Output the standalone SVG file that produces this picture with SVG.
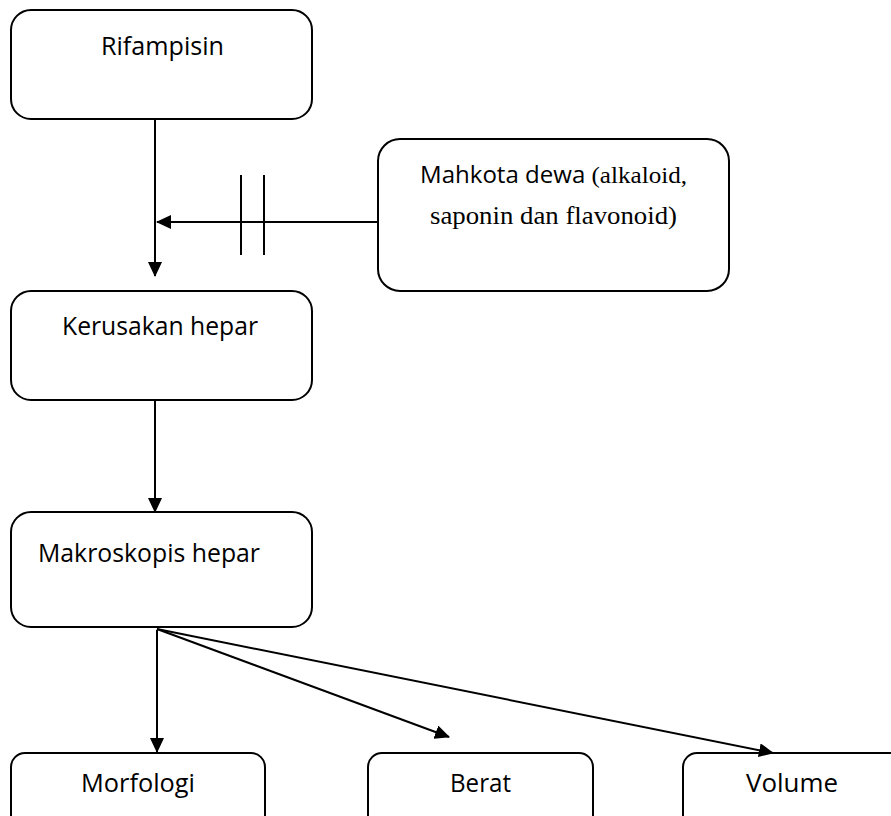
<svg xmlns="http://www.w3.org/2000/svg" width="891" height="816" viewBox="0 0 891 816">
<style>
.box{fill:#fff;stroke:#000;stroke-width:2}
.c{stroke:#000;stroke-width:2;fill:none}
.t{font-family:"Open Sans","Liberation Sans",sans-serif;font-size:26px;fill:#000}
.s{font-family:"Liberation Serif",serif;font-size:25px;fill:#000}
</style>
<defs>
<marker id="ah" markerWidth="15" markerHeight="14" refX="14" refY="7" orient="auto" markerUnits="userSpaceOnUse">
<path d="M0,0 L15,7 L0,14 Z" fill="#000"/>
</marker>
</defs>
<g id="rifampisin">
<rect class="box" x="11" y="10" width="301" height="109" rx="20"/>
<text class="t" x="101" y="55" textLength="123" lengthAdjust="spacingAndGlyphs">Rifampisin</text>
</g>
<g id="mahkota">
<rect class="box" x="378" y="139" width="351" height="152" rx="22"/>
<text x="420" y="183" textLength="267" lengthAdjust="spacingAndGlyphs"><tspan class="t" style="font-size:23px">Mahkota dewa </tspan><tspan class="s" style="font-size:24px">(alkaloid,</tspan></text>
<text class="s" x="430" y="224" textLength="247" lengthAdjust="spacingAndGlyphs">saponin dan flavonoid)</text>
</g>
<g id="kerusakan">
<rect class="box" x="11" y="291" width="301" height="109" rx="20"/>
<text class="t" x="62" y="335" textLength="196" lengthAdjust="spacingAndGlyphs">Kerusakan hepar</text>
</g>
<g id="makroskopis">
<rect class="box" x="11" y="512" width="301" height="115" rx="20"/>
<text class="t" x="38" y="562" textLength="222" lengthAdjust="spacingAndGlyphs">Makroskopis hepar</text>
</g>
<g id="morfologi">
<rect class="box" x="11" y="753" width="254" height="80" rx="14"/>
<text class="t" x="81" y="792" textLength="114" lengthAdjust="spacingAndGlyphs">Morfologi</text>
</g>
<g id="berat">
<rect class="box" x="368" y="753" width="225" height="80" rx="14"/>
<text class="t" x="450" y="792" textLength="61" lengthAdjust="spacingAndGlyphs">Berat</text>
</g>
<g id="volume">
<rect class="box" x="683" y="753" width="230" height="80" rx="14"/>
<text class="t" x="746" y="792" textLength="92" lengthAdjust="spacingAndGlyphs">Volume</text>
</g>
<g id="connectors">
<line class="c" x1="155" y1="119" x2="155" y2="276" marker-end="url(#ah)"/>
<line class="c" x1="378" y1="222" x2="157" y2="222" marker-end="url(#ah)"/>
<line class="c" x1="241" y1="175" x2="241" y2="255"/>
<line class="c" x1="264" y1="175" x2="264" y2="255"/>
<line class="c" x1="155" y1="400" x2="155" y2="512" marker-end="url(#ah)"/>
<line class="c" x1="157" y1="630" x2="157" y2="752" marker-end="url(#ah)"/>
<line class="c" x1="157" y1="629" x2="449" y2="737" marker-end="url(#ah)"/>
<line class="c" x1="157" y1="629" x2="773" y2="753" marker-end="url(#ah)"/>
</g>
</svg>
